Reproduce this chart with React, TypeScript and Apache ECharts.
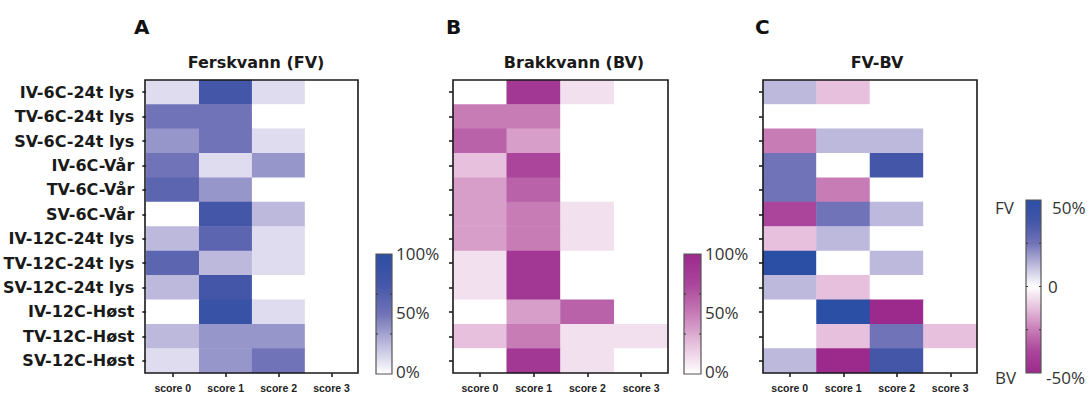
import React, { useEffect, useRef } from "react";
import * as echarts from "echarts";

const rowLabels = [
  "IV-6C-24t lys",
  "TV-6C-24t lys",
  "SV-6C-24t lys",
  "IV-6C-Vår",
  "TV-6C-Vår",
  "SV-6C-Vår",
  "IV-12C-24t lys",
  "TV-12C-24t lys",
  "SV-12C-24t lys",
  "IV-12C-Høst",
  "TV-12C-Høst",
  "SV-12C-Høst",
];
const scoreLabels = ["score 0", "score 1", "score 2", "score 3"];

// Ferskvann (FV), % per score
const fvValues = [
  [12.5, 75, 12.5, 0],
  [50, 50, 0, 0],
  [37.5, 50, 12.5, 0],
  [50, 12.5, 37.5, 0],
  [62.5, 37.5, 0, 0],
  [0, 75, 25, 0],
  [25, 62.5, 12.5, 0],
  [62.5, 25, 12.5, 0],
  [25, 75, 0, 0],
  [0, 87.5, 12.5, 0],
  [25, 37.5, 37.5, 0],
  [12.5, 37.5, 50, 0],
];
// Brakkvann (BV), % per score
const bvValues = [
  [0, 87.5, 12.5, 0],
  [50, 50, 0, 0],
  [62.5, 37.5, 0, 0],
  [25, 75, 0, 0],
  [37.5, 62.5, 0, 0],
  [37.5, 50, 12.5, 0],
  [37.5, 50, 12.5, 0],
  [12.5, 87.5, 0, 0],
  [12.5, 87.5, 0, 0],
  [0, 37.5, 62.5, 0],
  [25, 50, 12.5, 12.5],
  [0, 87.5, 12.5, 0],
];
// FV-BV difference, %
const diffValues = [
  [12.5, -12.5, 0, 0],
  [0, 0, 0, 0],
  [-25, 12.5, 12.5, 0],
  [25, 0, 37.5, 0],
  [25, -25, 0, 0],
  [-37.5, 25, 12.5, 0],
  [-12.5, 12.5, 0, 0],
  [50, 0, 12.5, 0],
  [12.5, -12.5, 0, 0],
  [0, 50, -50, 0],
  [0, -12.5, 25, -12.5],
  [12.5, -50, 37.5, 0],
];

const panelTitles = ["Ferskvann (FV)", "Brakkvann (BV)", "FV-BV"];
const panelLetters = ["A", "B", "C"];
const fvBarTicks = ["100%", "50%", "0%"];
const bvBarTicks = ["100%", "50%", "0%"];
const diffBarTicks = ["50%", "0", "-50%"];

const BLUE = ["#ffffff", "#bcb9dc", "#7173b8", "#4456a8", "#2b4fa4"];
const MAGENTA = ["#ffffff", "#e6c0dd", "#c77cb6", "#aa459b", "#9c2a8c"];
const DIVERGE = [...MAGENTA.slice().reverse(), ...BLUE.slice(1)];

const toData = (m: number[][]) => {
  const out: number[][] = [];
  m.forEach((row, i) => row.forEach((v, j) => out.push([j, i, v])));
  return out;
};

export default function App() {
  const ref = useRef<HTMLDivElement>(null);
  useEffect(() => {
    if (!ref.current) return;
    const chart = echarts.init(ref.current, null, { renderer: "svg" });
    const grids = [
      { left: 145, top: 80, width: 213, height: 293 },
      { left: 453, top: 80, width: 215, height: 293 },
      { left: 763, top: 80, width: 214, height: 293 },
    ];
    const boldFont = "DejaVu Sans";
    const xAxes = grids.map((_, i) => ({
      type: "category" as const,
      gridIndex: i,
      data: scoreLabels,
      axisLine: { show: false },
      axisTick: { show: true, alignWithLabel: true, length: 4, lineStyle: { color: "#111", width: 1.5 } },
      axisLabel: { fontSize: 10.5, fontWeight: "bold", fontFamily: "Liberation Sans", color: "#222", margin: 9 },
      splitLine: { show: false },
    }));
    const yAxes = grids.map((_, i) => ({
      type: "category" as const,
      gridIndex: i,
      data: rowLabels,
      inverse: true,
      axisLine: { show: false },
      axisTick: { show: true, alignWithLabel: true, length: 4, lineStyle: { color: "#111", width: 1.5 } },
      axisLabel: {
        show: i === 0,
        fontSize: 16,
        fontWeight: "bold",
        fontFamily: boldFont,
        color: "#1a1a1a",
        margin: 12,
      },
      splitLine: { show: false },
    }));
    const mats = [fvValues, bvValues, diffValues];
    const series = mats.map((m, i) => ({
      type: "heatmap" as const,
      xAxisIndex: i,
      yAxisIndex: i,
      data: toData(m),
      itemStyle: { borderWidth: 0 },
      emphasis: { disabled: true },
    }));

    const grad = (cols: string[]) =>
      new echarts.graphic.LinearGradient(
        0,
        0,
        0,
        1,
        cols
          .slice()
          .reverse()
          .map((c, k, arr) => ({ offset: k / (arr.length - 1), color: c }))
      );

    const graphics: any[] = [];
    const titleX = [256, 574, 877];
    grids.forEach((g, i) => {
      graphics.push({
        type: "rect",
        shape: { x: g.left, y: g.top, width: g.width, height: g.height },
        style: { fill: "none", stroke: "#1a1a1a", lineWidth: 1.6 },
        z: 100,
      });
      graphics.push({
        type: "text",
        x: titleX[i],
        y: 62,
        style: { text: panelTitles[i], font: `bold 16px '${boldFont}'`, fill: "#1a1a1a", align: "center", verticalAlign: "middle" },
      });
    });
    const letterX = [134, 446, 755];
    panelLetters.forEach((t, i) => {
      graphics.push({
        type: "text",
        x: letterX[i],
        y: 27,
        style: { text: t, font: `bold 20px '${boldFont}'`, fill: "#111", align: "left", verticalAlign: "middle" },
      });
    });

    const colorBar = (x: number, y: number, w: number, h: number, cols: string[], ticks: number) => {
      graphics.push({
        type: "rect",
        shape: { x, y, width: w, height: h },
        style: { fill: grad(cols), stroke: "#555", lineWidth: 1.2 },
      });
      for (let k = 1; k < ticks; k++) {
        const ty = y + (h * k) / ticks;
        graphics.push({ type: "line", shape: { x1: x, y1: ty, x2: x + 2, y2: ty }, style: { stroke: "#333", lineWidth: 1 } });
        graphics.push({ type: "line", shape: { x1: x + w - 2, y1: ty, x2: x + w, y2: ty }, style: { stroke: "#333", lineWidth: 1 } });
      }
    };
    const barFont = "17px 'Open Sans'";
    const label = (text: string, x: number, y: number, align = "left") =>
      graphics.push({ type: "text", x, y, style: { text, font: barFont, fill: "#333", align, verticalAlign: "middle" } });

    colorBar(376, 254, 16, 120, BLUE, 3);
    label(fvBarTicks[0], 396, 253);
    label(fvBarTicks[1], 396, 312);
    label(fvBarTicks[2], 396, 371);

    colorBar(684, 254, 17, 120, MAGENTA, 3);
    label(bvBarTicks[0], 705, 253);
    label(bvBarTicks[1], 705, 312);
    label(bvBarTicks[2], 705, 371);

    colorBar(1026, 200, 15, 173, DIVERGE, 4);
    label(diffBarTicks[0], 1052, 207);
    label(diffBarTicks[1], 1048, 286);
    label(diffBarTicks[2], 1046, 377);
    label("FV", 995, 207);
    label("BV", 995, 377);

    chart.setOption({
      animation: false,
      backgroundColor: "#ffffff",
      grid: grids.map((g) => ({ ...g, containLabel: false })),
      xAxis: xAxes,
      yAxis: yAxes,
      visualMap: [
        { type: "continuous", show: false, seriesIndex: 0, min: 0, max: 100, inRange: { color: BLUE } },
        { type: "continuous", show: false, seriesIndex: 1, min: 0, max: 100, inRange: { color: MAGENTA } },
        { type: "continuous", show: false, seriesIndex: 2, min: -50, max: 50, inRange: { color: DIVERGE } },
      ],
      series,
      graphic: graphics,
    });
    return () => chart.dispose();
  }, []);
  return (
    <div
      ref={ref}
      style={{ position: "fixed", left: 0, top: 0, width: 1091, height: 394, background: "#fff" }}
    />
  );
}
